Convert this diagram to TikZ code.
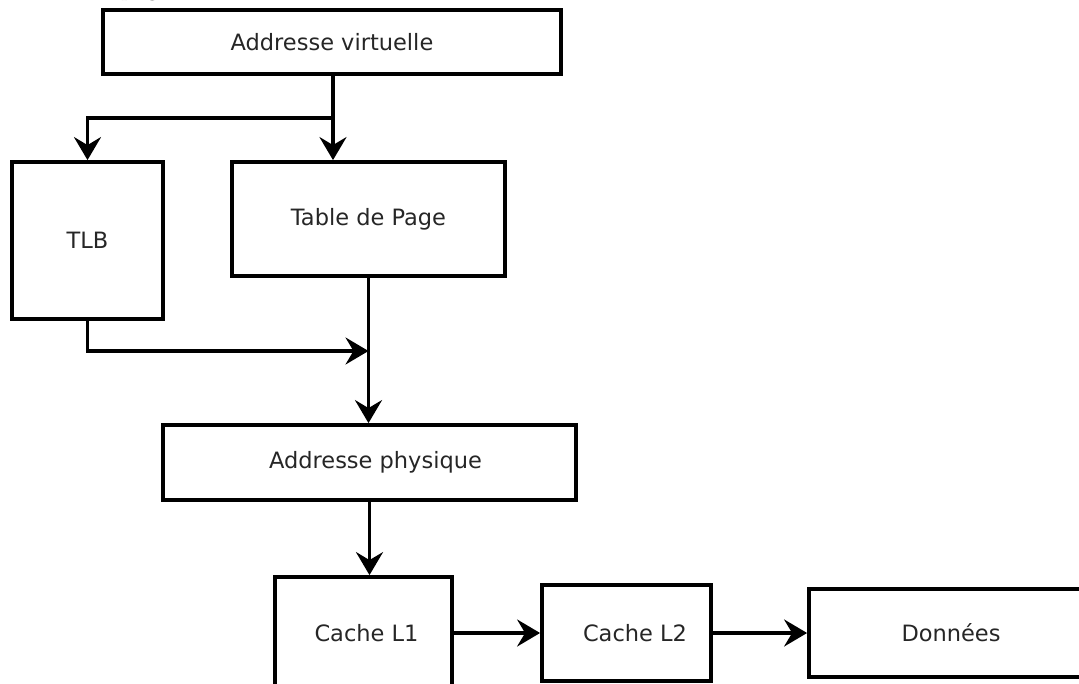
\documentclass[tikz,border=0pt]{standalone}
\usepackage{fontspec}
\setmainfont{DejaVu Sans}
\newfontfamily\lmroman{Latin Modern Roman}
\usetikzlibrary{arrows.meta}
\tikzset{
  box/.style={draw, line width=3.8pt, inner sep=0pt, font=\fontsize{22.5}{27}\selectfont,
              text=black!85},
  arr/.style={line width=3.4pt, -{Stealth[length=23pt, width=27pt, inset=8pt]}},
  wire/.style={line width=3.4pt}
}
\begin{document}
\begin{tikzpicture}[x=1pt, y=-1pt]
\useasboundingbox (0,0) rectangle (1079,684);
\clip (0,0) rectangle (1079,684);

% caption fragment sitting above the frame
\node[anchor=base west, inner sep=0pt, font=\lmroman\fontsize{26}{30}\selectfont] (cap) at (121,-4.5) {page};

% boxes
\node[box, minimum width=458pt, minimum height=64pt]  (av)  at (332,42)    {Addresse virtuelle};
\node[box, minimum width=151pt, minimum height=157pt] (tlb) at (87.5,240.5) {TLB};
\node[box, minimum width=273pt, minimum height=114pt] (tp)  at (368.5,219) {Table de Page};
\node[box, minimum width=413pt, minimum height=75pt]  (ap)  at (369.5,462.5) {\hspace*{12pt}Addresse physique};
\node[box, minimum width=177pt, minimum height=112pt] (c1)  at (363.5,633) {\hspace*{6pt}Cache L1};
\node[box, minimum width=169pt, minimum height=96pt]  (c2)  at (626.5,633) {\hspace*{17pt}Cache L2};
\node[box, minimum width=284pt, minimum height=88pt]  (dn)  at (951,633)   {Données};

% branch points
\coordinate (split) at (333,118);
\coordinate (merge) at (368.5,351);

% connectors
\draw[wire] (av.south -| split) -- (split);
\draw[arr] (split) -- (split |- tp.north);
\draw[arr] (split) -| (tlb.north);
\draw[arr] (tlb.south) |- (merge);
\draw[arr] (tp.south) -- (tp.south |- ap.north);
\draw[arr] (ap.south) -- (ap.south |- c1.north);
\draw[arr] (c1.east) -- (c2.west);
\draw[arr] (c2.east) -- (dn.west);
\end{tikzpicture}
\end{document}
